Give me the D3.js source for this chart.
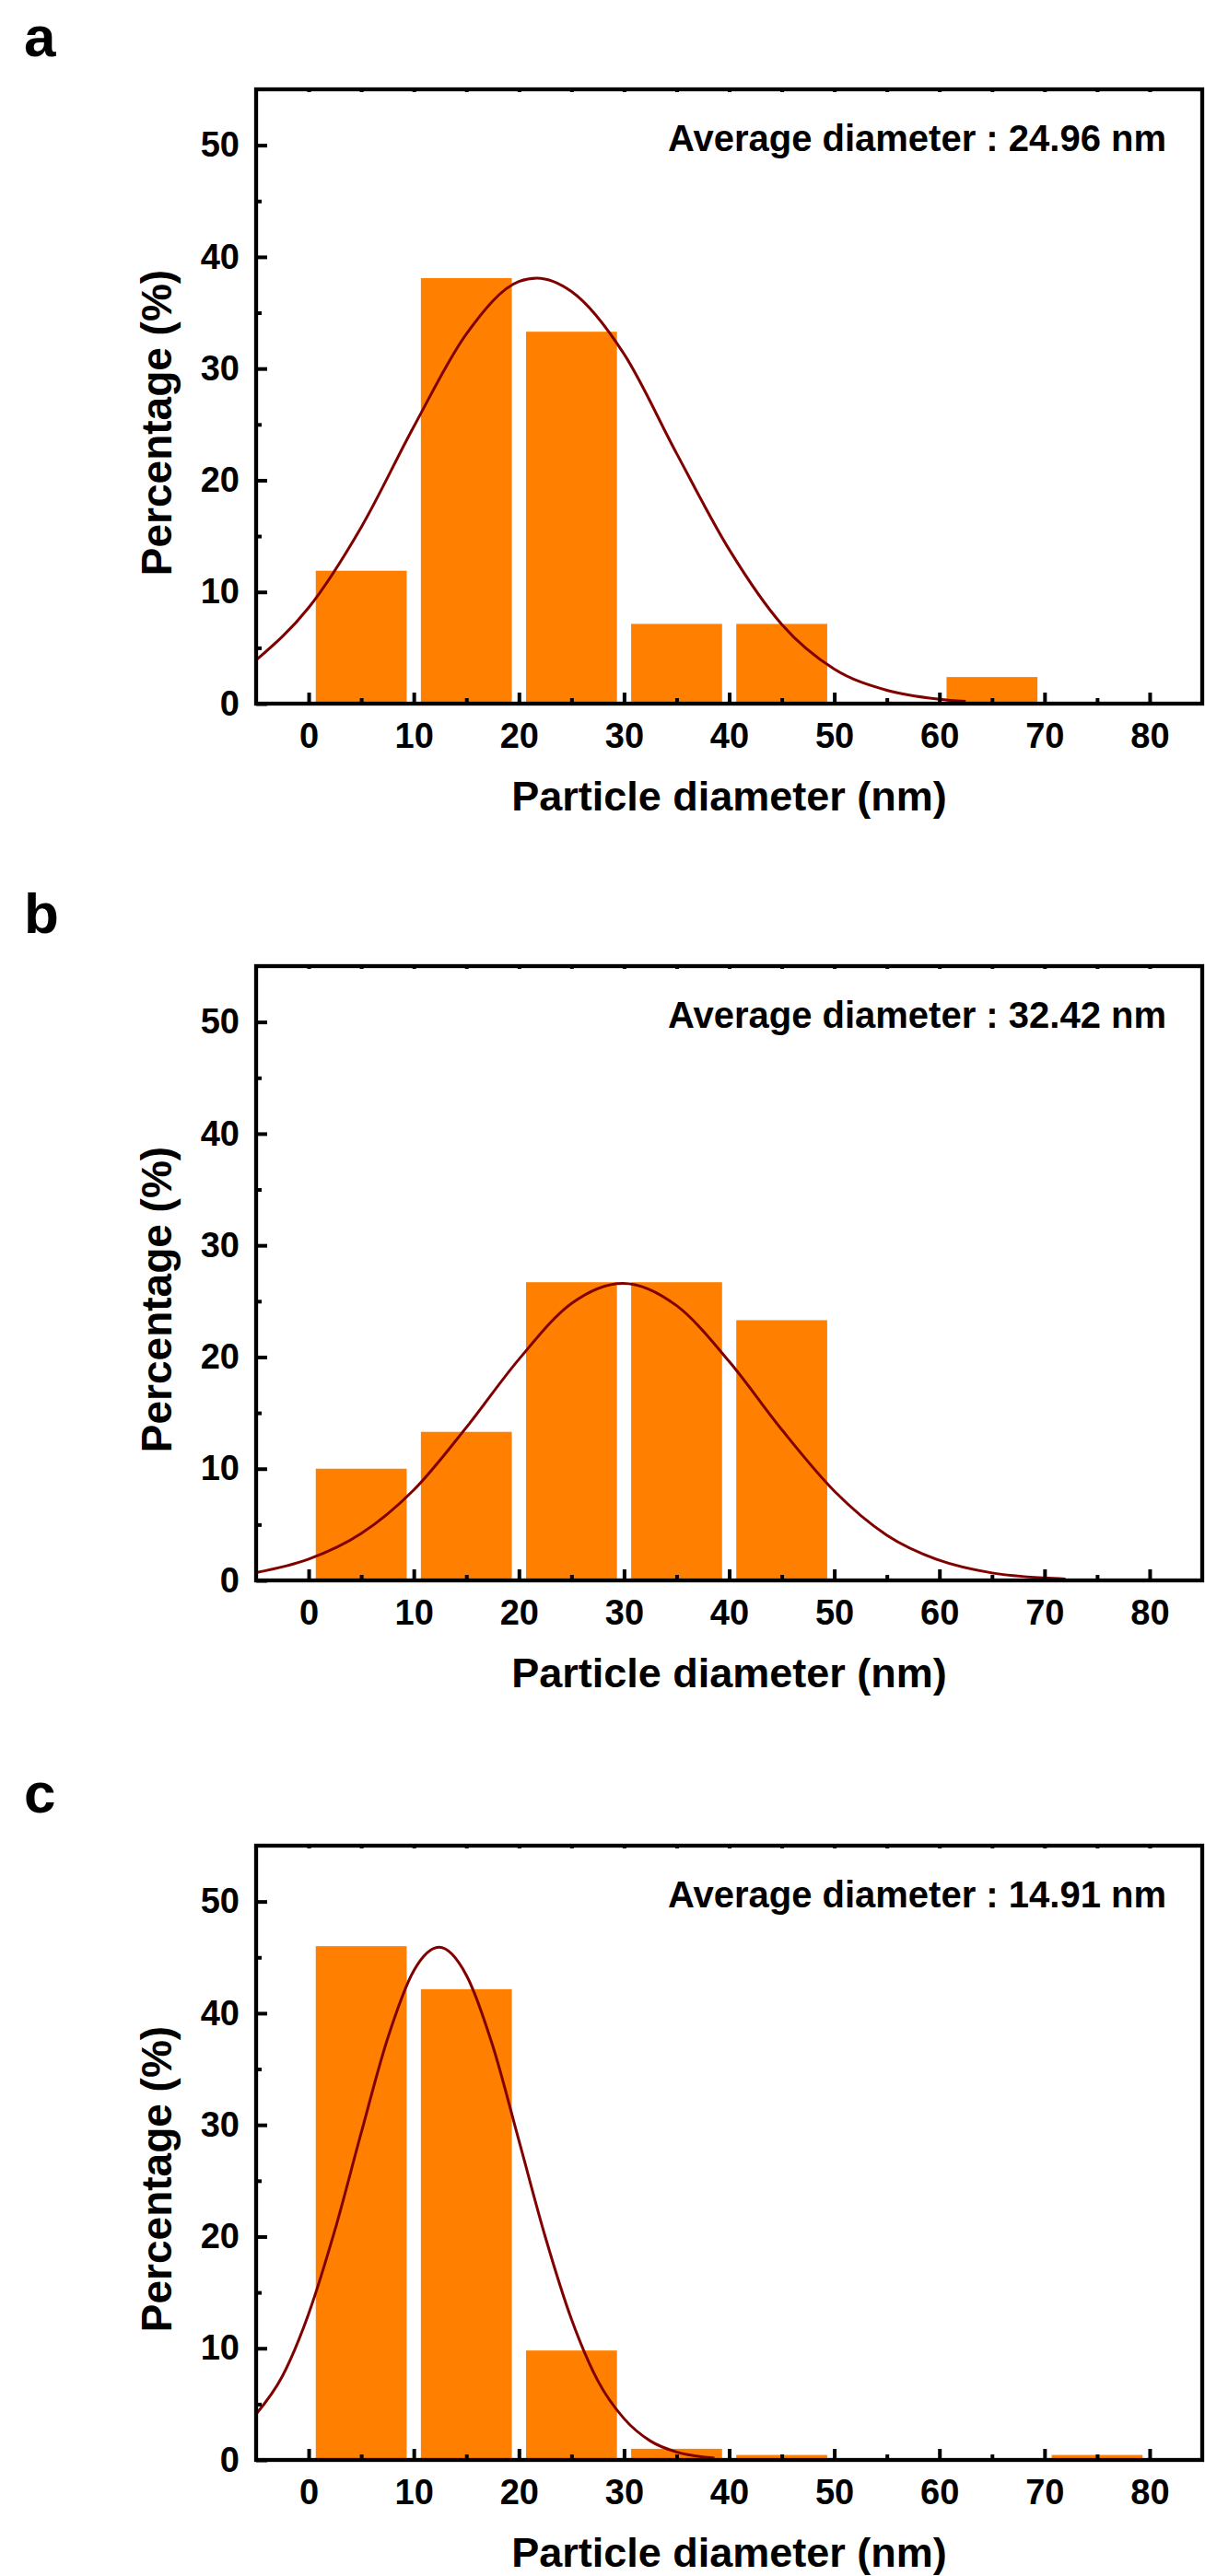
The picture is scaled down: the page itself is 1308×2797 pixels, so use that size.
<!DOCTYPE html>
<html>
<head>
<meta charset="utf-8">
<script src="https://cdn.jsdelivr.net/npm/d3@7"></script>
<style>
  body { margin: 0; background: #fff; }
  svg text { font-family: "Liberation Sans", Arial, sans-serif; font-weight: bold; fill: #000; }
</style>
</head>
<body>
<div id="chart"></div>
<script>
// DATA
var panelLetters = ['a', 'b', 'c'];
var averageLabels = ['Average diameter : 24.96 nm', 'Average diameter : 32.42 nm', 'Average diameter : 14.91 nm'];

// histogram bins (lower edge, nm) and percentages per panel
var binStarts = [0, 10, 20, 30, 40, 50, 60, 70];
var percentA = [11.9, 38.1, 33.3, 7.14, 7.14, 0, 2.38, 0];
var percentB = [10.0, 13.3, 26.7, 26.7, 23.3, 0, 0, 0];
var percentC = [46.0, 42.15, 9.8, 1.0, 0.45, 0, 0, 0.45];

// fitted distribution curve
var fitXA = [-5, 0, 5, 10, 15, 20, 21.7, 25, 30, 35, 40, 45, 50, 55, 60, 62.5];
var fitYA = [3.9, 8.6, 15.8, 24.8, 33.1, 37.8, 38.1, 36.9, 31.3, 22.4, 13.8, 7.1, 3.1, 1.2, 0.4, 0.2];
var fitXB = [-5, 0, 5, 10, 15, 20, 25, 29.9, 35, 40, 45, 50, 55, 60, 65, 70, 72];
var fitYB = [0.7, 1.9, 4.2, 8.1, 13.7, 19.8, 24.8, 26.6, 24.6, 19.6, 13.5, 8.0, 4.05, 1.8, 0.67, 0.22, 0.13];
var fitXC = [-5, -2.5, 0, 2.5, 5, 7.5, 10, 12.4, 15, 17.5, 20, 22.5, 25, 27.5, 30, 32.5, 35, 37.5, 38.6];
var fitYC = [4.1, 7.5, 13.1, 20.6, 29.3, 37.7, 43.8, 45.9, 43.4, 37.1, 28.6, 20.0, 12.6, 7.1, 3.7, 1.7, 0.71, 0.27, 0.17];

var xMajorTicks = [0, 10, 20, 30, 40, 50, 60, 70, 80];
var xMinorTicks = [5, 15, 25, 35, 45, 55, 65, 75];
var yMajorTicks = [0, 10, 20, 30, 40, 50];
var yMinorTicks = [5, 15, 25, 35, 45];

var percents = [percentA, percentB, percentC];
var fitX = [fitXA, fitXB, fitXC];
var fitY = [fitYA, fitYB, fitYC];

// LAYOUT
var width = 1308, height = 2797;
var frameLeft = 278, frameRight = 1305, frameH = 667;
var panelTops = [97, 1049, 2004];
var binWidth = 10, barWidth = 8.65;

var barColor = '#ff8000', fitColor = '#800000';

var svg = d3.select('#chart').append('svg')
    .attr('width', width)
    .attr('height', height);

var x = d3.scaleLinear().domain([-5, 85]).range([frameLeft, frameRight]);
var y = d3.scaleLinear().domain([0, 55]).range([frameH, 0]);

var line = d3.line()
    .x(function(d) { return x(d[0]); })
    .y(function(d) { return y(d[1]); })
    .curve(d3.curveMonotoneX);

panelTops.forEach(function(top, i) {
    var g = svg.append('g').attr('transform', 'translate(0,' + top + ')');

    //bars
    var bins = binStarts.map(function(s, k) { return {start: s, value: percents[i][k]}; })
        .filter(function(d) { return d.value > 0; });

    g.selectAll('.bar')
        .data(bins)
      .enter().append('rect')
        .attr('class', 'bar')
        .attr('x', function(d) { return x(d.start + (binWidth - barWidth) / 2); })
        .attr('width', function(d) { return x(barWidth) - x(0); })
        .attr('y', function(d) { return y(d.value); })
        .attr('height', function(d) { return y(0) - y(d.value); })
        .attr('fill', barColor);

    //fit curve
    var pts = fitX[i].map(function(v, k) { return [v, fitY[i][k]]; });
    g.append('path')
        .datum(pts)
        .attr('d', line)
        .attr('fill', 'none')
        .attr('stroke', fitColor)
        .attr('stroke-width', 3);

    //axes - ticks point inward
    g.append('g')
        .attr('transform', 'translate(0,' + frameH + ')')
        .call(d3.axisBottom(x).tickValues(xMajorTicks).tickSize(-12).tickPadding(21).tickFormat(d3.format('d')));
    g.append('g')
        .attr('transform', 'translate(0,' + frameH + ')')
        .call(d3.axisBottom(x).tickValues(xMinorTicks).tickSize(-6).tickFormat(''));
    g.append('g')
        .call(d3.axisTop(x).tickValues(xMajorTicks.concat(xMinorTicks)).tickSize(-3).tickFormat(''));
    g.append('g')
        .attr('transform', 'translate(' + frameLeft + ',0)')
        .call(d3.axisLeft(y).tickValues(yMajorTicks).tickSize(-12).tickPadding(18).tickFormat(d3.format('d')));
    g.append('g')
        .attr('transform', 'translate(' + frameLeft + ',0)')
        .call(d3.axisLeft(y).tickValues(yMinorTicks).tickSize(-6).tickFormat(''));

    g.selectAll('.domain').remove();
    g.selectAll('.tick line').attr('stroke', '#000').attr('stroke-width', 4);
    g.selectAll('.tick text')
        .style('font-size', '38px')
        .style('font-family', '"Liberation Sans", Arial, sans-serif')
        .style('font-weight', 'bold');

    //frame
    g.append('rect')
        .attr('x', frameLeft)
        .attr('y', 0)
        .attr('width', frameRight - frameLeft)
        .attr('height', frameH)
        .attr('fill', 'none')
        .attr('stroke', '#000')
        .attr('stroke-width', 4.3);

    //labels
    g.append('text')
        .attr('x', (frameLeft + frameRight) / 2)
        .attr('y', 783)
        .attr('text-anchor', 'middle')
        .style('font-size', '45px')
        .text('Particle diameter (nm)');

    g.append('text')
        .attr('transform', 'translate(186,' + 362 + ') rotate(-90)')
        .attr('text-anchor', 'middle')
        .style('font-size', '46px')
        .text('Percentage (%)');

    g.append('text')
        .attr('x', 1266)
        .attr('y', 67)
        .attr('text-anchor', 'end')
        .style('font-size', '40px')
        .text(averageLabels[i]);

    g.append('text')
        .attr('x', 26)
        .attr('y', -36)
        .style('font-size', '62px')
        .text(panelLetters[i]);
});
</script>
</body>
</html>
